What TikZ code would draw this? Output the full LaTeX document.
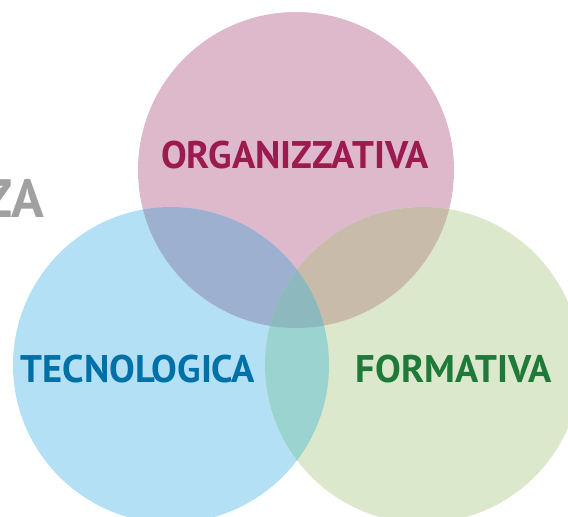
\documentclass[tikz,border=0pt]{standalone}
\usepackage{fontspec}
\setmainfont{PT Sans}
\usetikzlibrary{positioning}

\definecolor{orgfill}{HTML}{DEB9CB}
\definecolor{tecfill}{HTML}{B3E0F5}
\definecolor{forfill}{HTML}{DCE8CB}
\definecolor{orgtec}{HTML}{9DB0D0}
\definecolor{orgfor}{HTML}{C8BBAA}
\definecolor{tecfor}{HTML}{9AD3CF}
\definecolor{allthree}{HTML}{8DB8BD}
\definecolor{orgtext}{HTML}{9B1B4F}
\definecolor{tectext}{HTML}{0070A8}
\definecolor{fortext}{HTML}{1F7A3A}
\definecolor{greytext}{HTML}{A0A0A0}

\tikzset{
  area/.style={circle, minimum size=316pt, inner sep=0pt},
  areaname/.style={font=\bfseries\fontsize{38.5}{38.5}\selectfont, inner sep=0pt}
}

\begin{document}
\begin{tikzpicture}[x=1pt,y=-1pt]
  \useasboundingbox (0,0) rectangle (568,517);

  % centres of the three sets
  \coordinate (c-org) at (296,170);
  \coordinate (c-tec) at (171,365);
  \coordinate (c-for) at (423,365);

  % plain circles
  \node[area, fill=orgfill] (org) at (c-org) {};
  \node[area, fill=tecfill] (tec) at (c-tec) {};
  \node[area, fill=forfill] (for) at (c-for) {};

  % overlaps
  \begin{scope}
    \clip (c-org) circle (158);
    \fill[orgtec] (c-tec) circle (158);
    \fill[orgfor] (c-for) circle (158);
  \end{scope}
  \begin{scope}
    \clip (c-tec) circle (158);
    \fill[tecfor] (c-for) circle (158);
    \clip (c-for) circle (158);
    \fill[allthree] (c-org) circle (158);
  \end{scope}

  % labels
  \node[areaname, text=orgtext] (orgname) at (295,155) {ORGANIZZATIVA};
  \node[areaname, text=tectext] (tecname) at (138,369) {TECNOLOGICA};
  \node[areaname, text=fortext] (forname) at (454,369) {FORMATIVA};
  \node[font=\bfseries\fontsize{54}{54}\selectfont, text=greytext, inner sep=0pt, anchor=east] (side) at (44,198) {ZA};
\end{tikzpicture}
\end{document}
